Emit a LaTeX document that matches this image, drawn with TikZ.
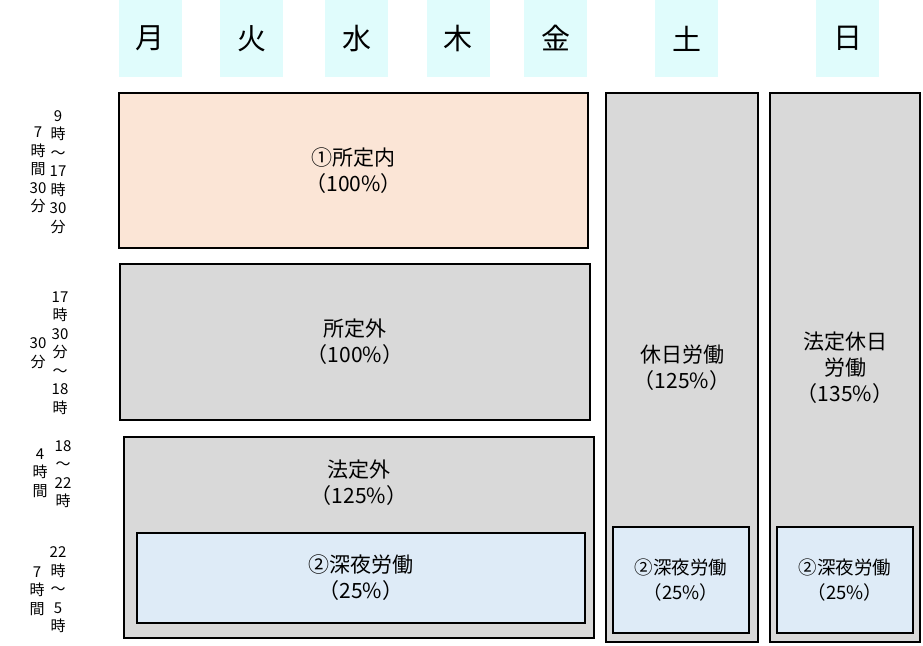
\documentclass[tikz,border=0pt]{standalone}
\usepackage{fontspec}
\setmainfont{Noto Sans CJK JP}
\definecolor{daycol}{RGB}{224,252,252}
\definecolor{basecol}{RGB}{251,229,214}
\definecolor{greycol}{RGB}{217,217,217}
\definecolor{nightcol}{RGB}{222,235,247}
\tikzset{
  daybox/.style={fill=daycol, minimum width=63pt, minimum height=77pt, inner sep=0pt, font=\fontsize{29}{30}\selectfont},
  ratebox/.style={draw, line width=2pt, align=center, inner sep=0pt, font=\fontsize{21}{26}\selectfont},
  nightbox/.style={ratebox, fill=nightcol, line width=1.6pt},
  ratetext/.style={align=center, inner sep=0pt, font=\fontsize{21}{26}\selectfont},
  timelabel/.style={align=center, inner sep=0pt, font=\fontsize{15}{18.5}\selectfont},
}
\begin{document}
\begin{tikzpicture}[x=1pt,y=-1pt]
    \useasboundingbox (0,0) rectangle (923,645);
    % weekday headers
    \node[daybox] (mon) at (150,38.5) {月};
    \node[daybox] (tue) at (251.5,38.5) {火};
    \node[daybox] (wed) at (356.5,38.5) {水};
    \node[daybox] (thu) at (458,38.5) {木};
    \node[daybox] (fri) at (555.5,38.5) {金};
    \node[daybox] (sat) at (686.5,38.5) {土};
    \node[daybox] (sun) at (847.5,38.5) {日};
    % weekday blocks
    \node[ratebox, fill=basecol, minimum width=469pt, minimum height=155pt] (scheduled) at (353.5,170.5) {①所定内\\（100\%）};
    \node[ratebox, fill=greycol, minimum width=470pt, minimum height=156pt] (overtime) at (355,342) {所定外\\（100\%）};
    \node[ratebox, fill=greycol, minimum width=470pt, minimum height=201pt] (legal) at (359,537.5) {};
    \node[ratetext] (legaltext) at (359,483) {法定外\\（125\%）};
    \node[nightbox, minimum width=448pt, minimum height=90pt] (night) at (361,578) {②深夜労働\\（25\%）};
    % saturday and sunday columns
    \node[ratebox, fill=greycol, line width=2.5pt, minimum width=152pt, minimum height=549pt] (satwork) at (682,367.5) {休日労働\\（125\%）};
    \node[ratebox, fill=greycol, line width=2.5pt, minimum width=150pt, minimum height=549pt] (sunwork) at (845,367.5) {法定休日\\労働\\（135\%）};
    \node[nightbox, minimum width=136pt, minimum height=106pt, font=\fontsize{18.5}{25}\selectfont] (satnight) at (681,580) {②深夜労働\\（25\%）};
    \node[nightbox, minimum width=136pt, minimum height=106pt, font=\fontsize{18.5}{25}\selectfont] (sunnight) at (845,580) {②深夜労働\\（25\%）};
    % time labels
    \node[timelabel] (lenA) at (38,170) {7\\時\\間\\30\\分};
    \node[timelabel] (spanA) at (58,172) {9\\時\\～\\17\\時\\30\\分};
    \node[timelabel] (lenB) at (38,353) {30\\分};
    \node[timelabel] (spanB) at (60,353) {17\\時\\30\\分\\～\\18\\時};
    \node[timelabel] (lenC) at (40,473) {4\\時\\間};
    \node[timelabel] (spanC) at (63,474) {18\\～\\22\\時};
    \node[timelabel] (lenD) at (37,591) {7\\時\\間};
    \node[timelabel] (spanD) at (58,590) {22\\時\\～\\5\\時};
\end{tikzpicture}
\end{document}
